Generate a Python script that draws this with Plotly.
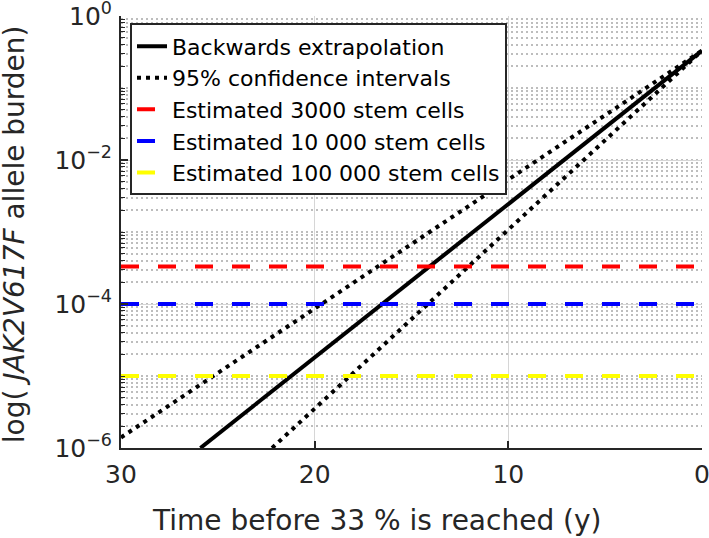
import plotly.graph_objects as go

# backwards extrapolation of the allele burden (years before 33 % is reached)
fit_years = [25.9, 0]
fit_burden = [1.0e-6, 0.33]

# 95% confidence intervals
ci_upper_years = [30, 0]
ci_upper_burden = [1.4e-6, 0.33]
ci_lower_years = [22.2, 0]
ci_lower_burden = [1.0e-6, 0.33]

# one mutated cell among N stem cells
stem_labels = ['Estimated 3000 stem cells', 'Estimated 10 000 stem cells',
               'Estimated 100 000 stem cells']
stem_burden = [3.33e-4, 1.0e-4, 1.0e-5]
stem_colors = ['#ff0000', '#0000ff', '#ffff00']
x_span = [30, 0]

x_ticks = [30, 20, 10, 0]
y_ticks = [1e-6, 1e-4, 1e-2, 1]
y_ticktext = ['10<sup>\u22126</sup>', '10<sup>\u22124</sup>',
              '10<sup>\u22122</sup>', '10<sup>0</sup>']

FONT = 'DejaVu Sans'
INK = '#262626'

fig = go.Figure()

fig.add_trace(go.Scatter(
    x=fit_years, y=fit_burden, mode='lines',
    name='Backwards extrapolation',
    line=dict(color='black', width=4)
))
fig.add_trace(go.Scatter(
    x=ci_upper_years, y=ci_upper_burden, mode='lines',
    name='95% confidence intervals',
    line=dict(color='black', width=4, dash='4px,5px')
))
fig.add_trace(go.Scatter(
    x=ci_lower_years, y=ci_lower_burden, mode='lines',
    showlegend=False,
    line=dict(color='black', width=4, dash='4px,5px')
))

for label, level, color in zip(stem_labels, stem_burden, stem_colors):
    fig.add_trace(go.Scatter(
        x=x_span, y=[level, level], mode='lines',
        name=label,
        line=dict(color=color, width=4, dash='18px,19px')
    ))

fig.update_layout(
    width=709, height=538,
    margin=dict(l=121, r=7, t=16, b=90),
    plot_bgcolor='white',
    paper_bgcolor='white',
    font=dict(family=FONT, color=INK),
    showlegend=True,
    legend=dict(
        x=0.0155, y=0.983, xanchor='left', yanchor='top',
        bgcolor='white', bordercolor=INK, borderwidth=2,
        font=dict(size=22, color='black'),
        tracegroupgap=0, itemwidth=30
    ),
    xaxis=dict(
        range=[30, 0],
        tickvals=x_ticks,
        ticks='inside', ticklen=7, tickwidth=2, tickcolor=INK,
        showline=True, linecolor=INK, linewidth=2,
        showgrid=True, gridcolor='#d6d6d6', gridwidth=1,
        zeroline=False,
        tickfont=dict(size=25, color=INK),
        ticklabelstandoff=3,
        ticklabeloverflow='allow',
        automargin=False
    ),
    yaxis=dict(
        type='log',
        range=[-6, 0],
        tickvals=y_ticks,
        ticktext=y_ticktext,
        ticks='inside', ticklen=7, tickwidth=2, tickcolor=INK,
        showline=True, linecolor=INK, linewidth=2,
        showgrid=True, gridcolor='#d6d6d6', gridwidth=1,
        zeroline=False,
        tickfont=dict(size=25, color=INK),
        ticklabelstandoff=2,
        ticklabeloverflow='allow',
        automargin=False,
        minor=dict(
            dtick='D1', ticks='inside', ticklen=4, tickwidth=1,
            tickcolor=INK, showgrid=True, gridcolor='#bdbdbd',
            gridwidth=1.5, griddash='2px,3px'
        )
    )
)

fig.add_annotation(
    text='Time before 33 % is reached (y)',
    xref='paper', yref='paper', x=0.44, y=-0.167,
    xanchor='center', yanchor='middle', showarrow=False,
    font=dict(size=28, color=INK)
)
fig.add_annotation(
    text='log( <i>JAK2V617F</i> allele burden)',
    xref='paper', yref='paper', x=-0.184, y=0.495,
    xanchor='center', yanchor='middle', showarrow=False,
    textangle=-90,
    font=dict(size=28, color=INK)
)

# drop the browser's default 8px body margin so the figure fills the window
fig.write_html('out.html', config={'displayModeBar': False},
               post_script="document.body.style.margin = '0';")
